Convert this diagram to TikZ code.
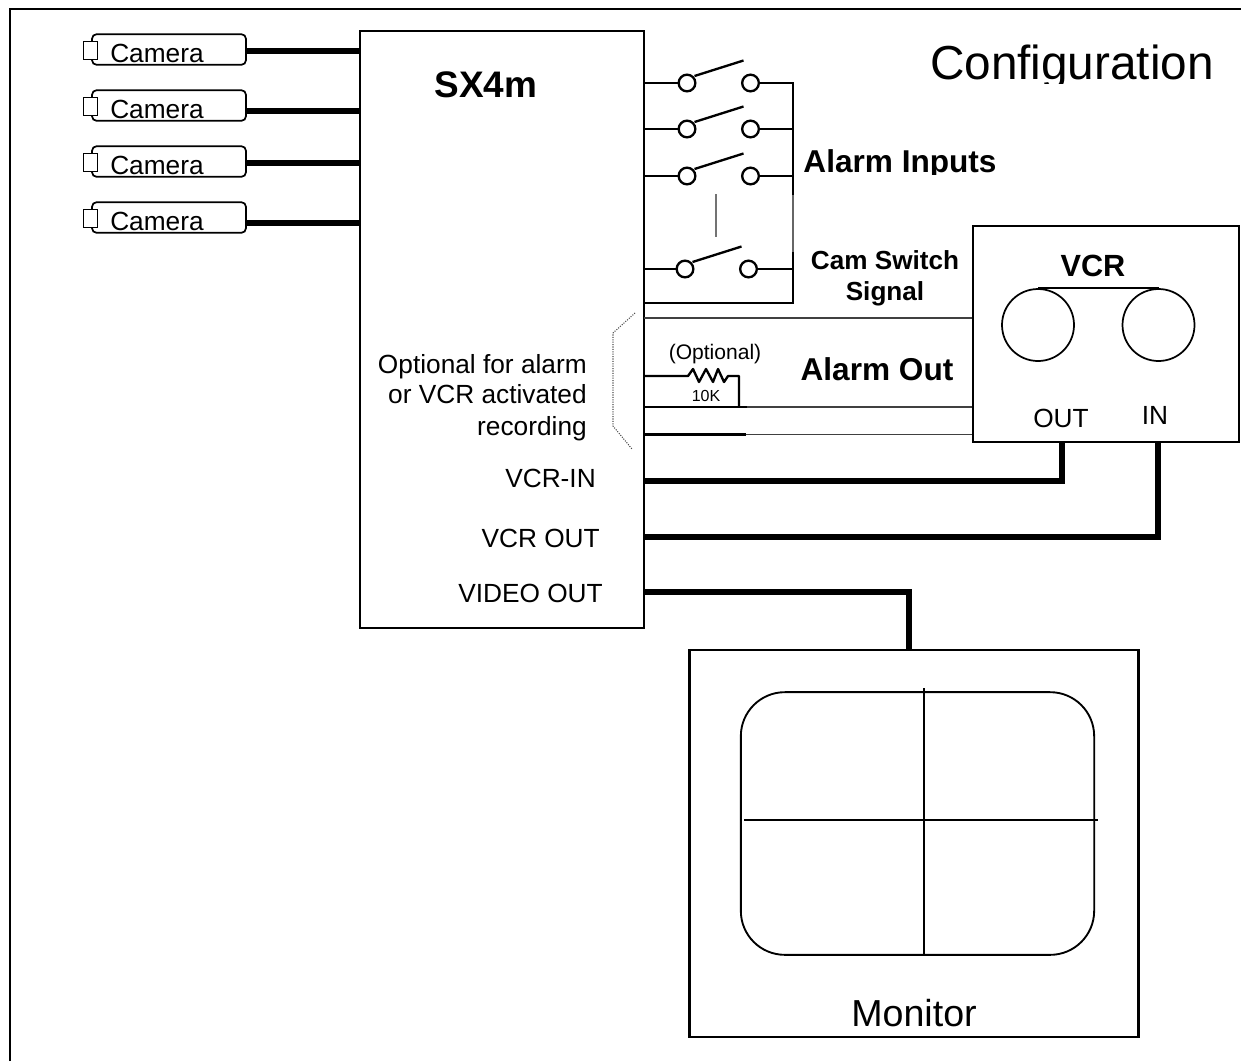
\documentclass[tikz,border=0pt]{standalone}
\usepackage{fontspec}
\setmainfont{Liberation Sans}
\tikzset{
 x=0.75pt,y=-0.75pt,
 frame/.style={draw,line width=1.9pt},
 thin1/.style={line width=0.9pt,color=black!75},
 med/.style={line width=1.75pt},
 thick1/.style={line width=4pt},
 term/.style={circle,draw,fill=white,line width=1.75pt,minimum size=12.5pt,inner sep=0pt},
 txt/.style={inner sep=0pt,anchor=base,font=\fontsize{19.7pt}{23pt}\selectfont},
 lens/.style={draw,fill=white,line width=1.3pt,minimum width=10.5pt,minimum height=13.5pt,inner sep=0pt},
 reel/.style={circle,draw,line width=1.3pt,minimum size=54pt,inner sep=0pt},
 bold20/.style={inner sep=0pt,anchor=base,font=\fontsize{23.7pt}{28pt}\selectfont\bfseries},
 bold18/.style={inner sep=0pt,anchor=base,font=\fontsize{19.6pt}{24pt}\selectfont\bfseries},
}
\begin{document}
\begin{tikzpicture}
\useasboundingbox (0,0) rectangle (1241,1061);
% outer border: only the top and left edges are on the page
\coordinate (bl) at (10,1061);
\coordinate (tl) at (10,9);
\coordinate (tr) at (1241,9);
\draw[line width=1.6pt] (bl) -- (tl) -- (tr);
% main box
\node[frame,minimum width=213pt,minimum height=448pt,inner sep=0pt] (sx) at (502,329.5) {};
\node[inner sep=0pt,anchor=base,font=\fontsize{27.7pt}{33pt}\selectfont\bfseries] (sxlabel) at (486,97) {SX4m};
% cameras
\foreach \i/\yy/\ln/\th in {a/49.5/51/4.4pt,b/105.5/111/3.8pt,c/161.5/163/3.8pt,d/217.5/223/3.8pt}{
  \node[draw,rounded corners=3.5pt,line width=1.3pt,minimum width=115.5pt,minimum height=23pt,inner sep=0pt] (cam\i) at (169,\yy) {};
  \node[lens] (lens\i) at (90.5,\yy+1) {};
  \node[txt,anchor=base west] (camt\i) at (110,\yy+12.5) {Camera};
  \coordinate (cs\i) at (246,\ln);
  \draw[line width=\th] (cs\i) -- (cs\i -| sx.west);
}
% alarm switches
\foreach \i/\yy/\x/\rr in {1/83/687/83,2/129/687/129,3/176/687/176,4/269/685/269}{
  \node[term] (l\i) at (\x,\yy) {};
  \node[term] (r\i) at (\x+63.5,\rr) {};
  \coordinate (bl\i) at (l\i -| sx.east);
  \coordinate (sw\i) at (\x+7.5,\yy-7);
  \coordinate (se\i) at (\x+56.5,\yy-22.5);
  \draw[med] (bl\i) -- (l\i.west);
  \draw[med] (sw\i) -- (se\i);
}
\coordinate (bus1) at (793,83);
\coordinate (busa) at (793,195);
\coordinate (busb) at (793,252);
\coordinate (busc) at (793,303);
\coordinate (busc0) at (644,303);
\draw[med] (r1.east) -- (bus1) -- (busa);
\draw[med] (r2.east) -- (r2 -| bus1);
\draw[med] (r3.east) -- (r3 -| bus1);
\draw[med] (r4.east) -- (r4 -| bus1);
\draw[line width=0.8pt,color=black!60] (busa) -- (busb);
\draw[med,line join=miter] (busb) -- (busc) -- (busc0);
\coordinate (dotsa) at (716,194);
\coordinate (dotsb) at (716,237);
\draw[line width=0.9pt,color=black!55] (dotsa) -- (dotsb);
\begin{scope}
  \clip (795,140) rectangle (1010,174.5);
  \node[bold20] (ai) at (900,172.5) {Alarm Inputs};
\end{scope}
\node[bold18] (css) at (885,269) {Cam Switch};
\node[bold18] (css2) at (885,300) {Signal};
\node[bold20] (ao) at (877,380.5) {Alarm Out};
\begin{scope}
  \clip (920,30) rectangle (1230,83.5);
  \node[inner sep=0pt,anchor=base,font=\fontsize{35.8pt}{43pt}\selectfont] (cfg) at (1072,79) {Configuration};
\end{scope}
% VCR
\node[frame,minimum width=199.5pt,minimum height=162pt,inner sep=0pt] (vcr) at (1106,334) {};
\node[inner sep=0pt,anchor=base,font=\fontsize{23pt}{28pt}\selectfont\bfseries] (vcrt) at (1093,276) {VCR};
\node[reel] (reela) at (1038,325) {};
\node[reel] (reelb) at (1158.5,325) {};
\draw[line width=1.3pt] (reela.north) -- (reelb.north);
\node[txt] (out) at (1061,427) {OUT};
\node[txt] (in) at (1155,424.5) {IN};
% signal lines
\coordinate (c1) at (644,318);
\draw[thin1] (c1) -- (c1 -| vcr.west);
\coordinate (c2) at (644,407);
\coordinate (c2m) at (747,407);
\coordinate (c3) at (644,434.5);
\coordinate (c3m) at (746,434.5);
\draw[med] (c2) -- (c2m);
\draw[thin1] (c2m) -- (c2m -| vcr.west);
\draw[med] (c3) -- (c3m);
\draw[thin1] (c3m) -- (c3m -| vcr.west);
% resistor
\coordinate (ra) at (644,376);
\coordinate (rb) at (688,376);
\coordinate (rc) at (739,376);
\coordinate (rd) at (739,407);
\draw[med,line join=round] (ra) -- (rb) -- (693,369) -- (699,382) -- (706,369) -- (713,382) -- (718,369) -- (724,382) -- (728,376) -- (rc) -- (rd);
\node[inner sep=0pt,anchor=base,font=\fontsize{15.8pt}{18pt}\selectfont] (opt) at (715,359) {(Optional)};
\node[inner sep=0pt,anchor=base,font=\fontsize{12pt}{14pt}\selectfont] (tenk) at (706,401) {10K};
% dotted bracket
\draw[line width=0.8pt,densely dotted,color=black!70] (635,313) -- (613,333) -- (613,426) -- (632,449);
\node[txt,anchor=base east] (o1) at (587,373) {Optional for alarm};
\node[txt,anchor=base east] (o2) at (587,403) {or VCR activated};
\node[txt,anchor=base east] (o3) at (587,435) {recording};
% video ports
\node[txt,anchor=base east] (p1) at (596,487) {VCR-IN};
\node[txt,anchor=base east] (p2) at (600,547) {VCR OUT};
\node[txt,anchor=base east] (p3) at (603,602) {VIDEO OUT};
\coordinate (v1) at (644,481);
\coordinate (v1k) at (1062,481);
\coordinate (v2) at (644,537);
\coordinate (v2k) at (1158,537);
\coordinate (v3) at (644,592);
\coordinate (v3k) at (909,592);
\draw[thick1,line join=miter] (v1) -- (v1k) -- (v1k |- vcr.south);
\draw[thick1,line join=miter] (v2) -- (v2k) -- (v2k |- vcr.south);
% monitor
\node[frame,minimum width=337pt,minimum height=290pt,inner sep=0pt] (mon) at (914,843.5) {};
\draw[thick1,line join=miter] (v3) -- (v3k) -- (v3k |- mon.north);
\node[draw,line width=1.4pt,rounded corners=33pt,minimum width=265pt,minimum height=197pt,inner sep=0pt] (scr) at (917.5,823.5) {};
\coordinate (h1) at (744,820);
\coordinate (h2) at (1098,820);
\coordinate (v4) at (924,688);
\coordinate (v5) at (924,955);
\draw[line width=1.4pt] (h1) -- (h2);
\draw[line width=1.4pt] (v4) -- (v5);
\node[inner sep=0pt,anchor=base,font=\fontsize{28.2pt}{34pt}\selectfont] (mt) at (914,1026) {Monitor};
\end{tikzpicture}
\end{document}
